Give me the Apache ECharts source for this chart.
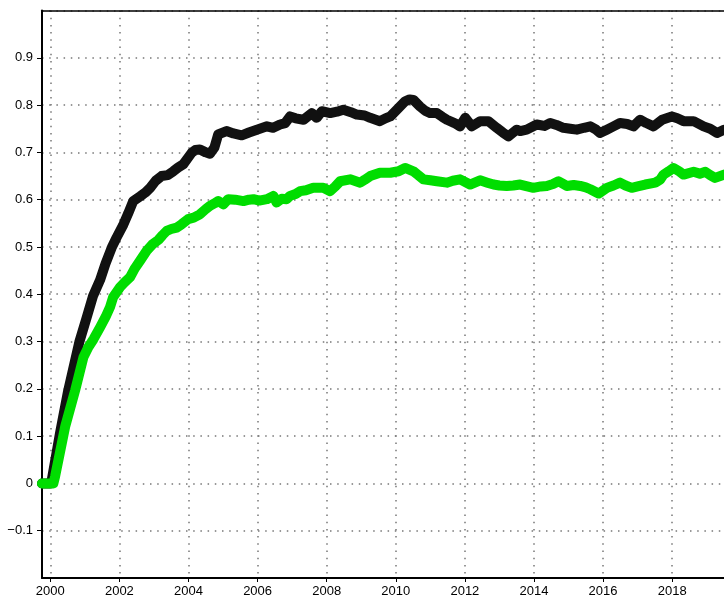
<!DOCTYPE html>
<html>
<head>
<meta charset="utf-8">
<script src="https://cdn.jsdelivr.net/npm/echarts@6/dist/echarts.min.js"></script>
<style>
  html, body { margin: 0; padding: 0; background: #fff; }
  #chart { width: 724px; height: 598px; }
</style>
</head>
<body>
<div id="chart"></div>
<script>
// x ticks / labels
var yearTicks = [2000, 2002, 2004, 2006, 2008, 2010, 2012, 2014, 2016, 2018]

// black series
var blackYears = [1999.76, 2000.0, 2000.05, 2000.28, 2000.52, 2000.84, 2001.05, 2001.24, 2001.44, 2001.6, 2001.78, 2001.92,
  2002.1, 2002.25, 2002.4, 2002.6, 2002.75, 2002.89, 2003.05, 2003.22, 2003.4, 2003.56, 2003.7, 2003.85, 2004.0, 2004.09, 2004.2,
  2004.33, 2004.5, 2004.62, 2004.75, 2004.86, 2005.1, 2005.3, 2005.54, 2005.75, 2005.98, 2006.27, 2006.45, 2006.65, 2006.8, 2006.94,
  2007.1, 2007.33, 2007.57, 2007.71, 2007.86, 2008.1, 2008.3, 2008.48, 2008.7, 2008.87, 2009.1, 2009.26, 2009.54, 2009.7, 2009.84,
  2010.08, 2010.27, 2010.4, 2010.51, 2010.7, 2010.85, 2010.99, 2011.19, 2011.35, 2011.48, 2011.7, 2011.86, 2012.01, 2012.2, 2012.44,
  2012.68, 2012.92, 2013.1, 2013.26, 2013.5, 2013.6, 2013.79, 2014.08, 2014.3, 2014.47, 2014.65, 2014.85, 2015.05, 2015.24, 2015.45,
  2015.63, 2015.8, 2015.91, 2016.11, 2016.3, 2016.49, 2016.7, 2016.88, 2017.07, 2017.25, 2017.46, 2017.71, 2017.99, 2018.15, 2018.33,
  2018.62, 2018.91, 2019.1, 2019.3, 2019.5]
var blackValues = [0, 0, 0.01, 0.106, 0.197, 0.299, 0.35, 0.397, 0.43, 0.465, 0.499, 0.52,
  0.545, 0.57, 0.597, 0.607, 0.615, 0.625, 0.64, 0.65, 0.652, 0.66, 0.668, 0.675, 0.69, 0.699, 0.705,
  0.706, 0.7, 0.697, 0.71, 0.738, 0.745, 0.74, 0.736, 0.742, 0.748, 0.755, 0.752, 0.759, 0.762, 0.776,
  0.772, 0.769, 0.783, 0.773, 0.787, 0.783, 0.786, 0.79, 0.785, 0.78, 0.778, 0.773, 0.766, 0.772, 0.776,
  0.794, 0.808, 0.812, 0.811, 0.797, 0.788, 0.783, 0.783, 0.775, 0.769, 0.762, 0.755, 0.773, 0.755, 0.766,
  0.766, 0.752, 0.742, 0.734, 0.748, 0.745, 0.748, 0.759, 0.756, 0.762, 0.758, 0.752, 0.75, 0.748, 0.752,
  0.755, 0.748, 0.741, 0.748, 0.755, 0.762, 0.76, 0.755, 0.769, 0.762, 0.755, 0.769, 0.776, 0.772, 0.766,
  0.766, 0.755, 0.75, 0.741, 0.748]

// green series
var greenYears = [1999.76, 2000.09, 2000.14, 2000.43, 2000.72, 2000.96, 2001.1, 2001.25, 2001.44, 2001.6, 2001.73, 2001.82, 2002.02,
  2002.15, 2002.31, 2002.45, 2002.6, 2002.79, 2002.95, 2003.13, 2003.25, 2003.37, 2003.5, 2003.66, 2003.8, 2003.99, 2004.15, 2004.33,
  2004.5, 2004.62, 2004.75, 2004.86, 2005.01, 2005.15, 2005.35, 2005.59, 2005.75, 2005.88, 2006.05, 2006.27, 2006.46, 2006.55,
  2006.7, 2006.84, 2006.94, 2007.1, 2007.23, 2007.4, 2007.61, 2007.9, 2008.1, 2008.25, 2008.39, 2008.68, 2008.97, 2009.1, 2009.26,
  2009.54, 2009.84, 2010.08, 2010.27, 2010.51, 2010.65, 2010.8, 2011.0, 2011.19, 2011.48, 2011.65, 2011.86, 2012.15, 2012.44, 2012.65,
  2012.83, 2013.0, 2013.21, 2013.4, 2013.6, 2013.98, 2014.2, 2014.37, 2014.55, 2014.71, 2014.95, 2015.15, 2015.34, 2015.5, 2015.63,
  2015.87, 2016.11, 2016.3, 2016.49, 2016.65, 2016.83, 2017.0, 2017.22, 2017.51, 2017.65, 2017.75, 2017.9, 2018.04, 2018.2, 2018.33,
  2018.62, 2018.8, 2018.96, 2019.1, 2019.24, 2019.5]
var greenValues = [0, 0, 0.015, 0.12, 0.197, 0.267, 0.288, 0.305, 0.33, 0.352, 0.373, 0.394, 0.415,
  0.425, 0.436, 0.455, 0.471, 0.492, 0.505, 0.515, 0.525, 0.534, 0.538, 0.541, 0.548, 0.559, 0.562, 0.569,
  0.58, 0.587, 0.592, 0.597, 0.59, 0.601, 0.6, 0.597, 0.6, 0.601, 0.598, 0.601, 0.608, 0.594,
  0.602, 0.601, 0.608, 0.612, 0.618, 0.62, 0.625, 0.625, 0.618, 0.628, 0.639, 0.643, 0.636, 0.642, 0.65,
  0.657, 0.657, 0.66, 0.667, 0.66, 0.652, 0.643, 0.641, 0.639, 0.636, 0.64, 0.643, 0.632, 0.641, 0.636,
  0.632, 0.63, 0.629, 0.63, 0.632, 0.625, 0.628, 0.629, 0.633, 0.639, 0.629, 0.631, 0.629, 0.626, 0.622,
  0.613, 0.625, 0.63, 0.636, 0.63, 0.625, 0.628, 0.632, 0.636, 0.642, 0.653, 0.66, 0.667, 0.66, 0.653,
  0.659, 0.655, 0.659, 0.652, 0.646, 0.653]

function pairs (xs, ys) {
  return xs.map(function (x, i) { return [x, ys[i]] })
}

var myChart = echarts.init(document.getElementById('chart'))
var dotted = { color: '#777', width: 1.5, type: [1.5, 5.7] }
var option = {
  animation: false,
  backgroundColor: '#fff',
  grid: {
    left: 42,
    right: 0,
    top: 10.5,
    bottom: 19.5
  },
  xAxis: [
    {
      type: 'value',
      position: 'bottom',
      min: 1999.76,
      max: 2019.5,
      axisLine: { show: true, onZero: false, lineStyle: { color: '#000', width: 2 } },
      axisTick: { show: true, length: 4, customValues: yearTicks, lineStyle: { color: '#000', width: 1 } },
      axisLabel: {
        customValues: yearTicks,
        margin: 7,
        color: '#000',
        fontSize: 13,
        fontFamily: 'Liberation Sans',
        formatter: function (v) { return String(Math.round(v)) }
      },
      splitLine: { show: true, lineStyle: dotted }
    },
    {
      type: 'value',
      position: 'top',
      min: 1999.76,
      max: 2019.5,
      axisLine: { show: true, onZero: false, lineStyle: { color: '#000', width: 1.5 } },
      axisTick: { show: false },
      axisLabel: { show: false },
      splitLine: { show: false }
    }
  ],
  yAxis: {
    type: 'value',
    min: -0.2,
    max: 1.0,
    interval: 0.1,
    axisLine: { show: true, onZero: false, lineStyle: { color: '#000', width: 2 } },
    axisTick: { show: true, length: 5, lineStyle: { color: '#000', width: 1 } },
    axisLabel: {
      margin: 9,
      color: '#000',
      fontSize: 13,
      fontFamily: 'Liberation Sans',
      showMinLabel: false,
      showMaxLabel: false,
      formatter: function (v) {
        var r = Math.round(v * 10) / 10
        return String(r).replace('-', '\u2212')
      }
    },
    splitLine: { show: true, lineStyle: dotted }
  },
  series: [
    {
      name: 'black',
      type: 'line',
      data: pairs(blackYears, blackValues),
      showSymbol: false,
      clip: true,
      z: 3,
      lineStyle: { color: '#111', width: 10, cap: 'round', join: 'round' }
    },
    {
      name: 'green',
      type: 'line',
      data: pairs(greenYears, greenValues),
      showSymbol: false,
      clip: true,
      z: 4,
      lineStyle: { color: '#00dd00', width: 10, cap: 'round', join: 'round' }
    }
  ]
}
myChart.setOption(option)
</script>
</body>
</html>
